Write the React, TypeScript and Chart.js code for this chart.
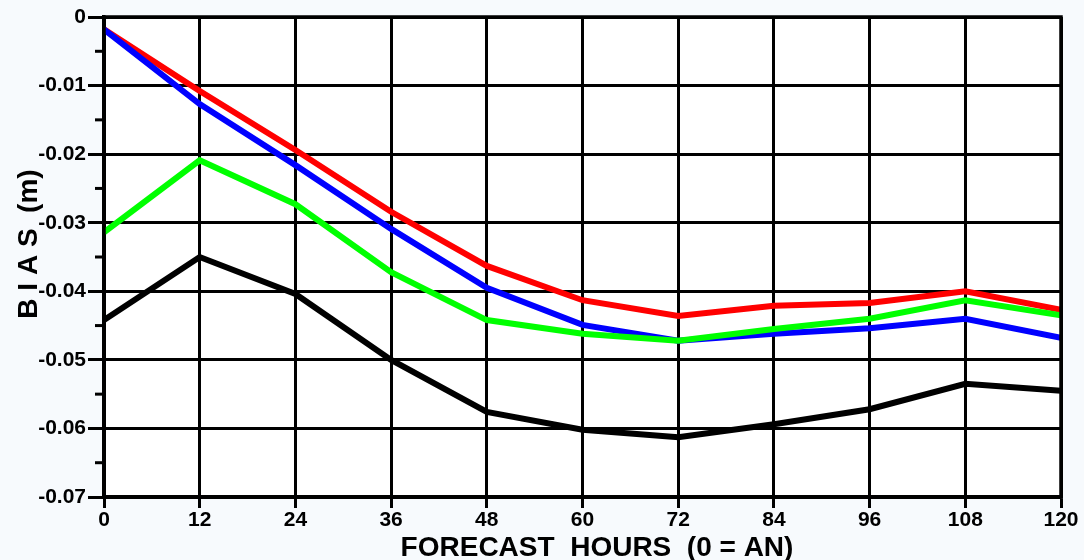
import React, { useEffect, useRef } from "react";
import { Chart, registerables } from "chart.js";

Chart.register(...registerables);

const hours = [0, 12, 24, 36, 48, 60, 72, 84, 96, 108, 120];
const redBias = [-0.0018, -0.0108, -0.0194, -0.0284, -0.0363, -0.0413, -0.0436, -0.0421, -0.0417, -0.04, -0.0427];
const blueBias = [-0.0018, -0.0127, -0.0216, -0.0309, -0.0395, -0.0449, -0.0472, -0.0462, -0.0454, -0.044, -0.0468];
const greenBias = [-0.0314, -0.0209, -0.0273, -0.0372, -0.0442, -0.0462, -0.0472, -0.0455, -0.044, -0.0413, -0.0435];
const blackBias = [-0.0442, -0.035, -0.0404, -0.05, -0.0576, -0.0602, -0.0613, -0.0594, -0.0572, -0.0535, -0.0545];
const minorTicks = [-0.005, -0.015, -0.025, -0.035, -0.045, -0.055, -0.065];
const xTitle = "FORECAST  HOURS  (0 = AN)";
const yTitle = "B I A S  (m)";

const FONT = "'Liberation Sans', Arial, Helvetica, sans-serif";

const toPts = (vals: number[]) => vals.map((v, i) => ({ x: hours[i], y: v }));

const decorPlugin = {
  id: "decor",
  beforeDraw(chart: any) {
    const ctx = chart.ctx;
    ctx.save();
    ctx.fillStyle = "#f7fafd";
    ctx.fillRect(0, 0, chart.width, chart.height);
    const a = chart.chartArea;
    ctx.fillStyle = "#ffffff";
    ctx.fillRect(a.left, a.top, a.right - a.left, a.bottom - a.top);
    ctx.restore();
  },
  afterDraw(chart: any) {
    const ctx = chart.ctx;
    const a = chart.chartArea;
    const ys = chart.scales.y;
    ctx.save();
    ctx.strokeStyle = "#000";
    ctx.lineWidth = 3;
    minorTicks.forEach((v) => {
      const py = ys.getPixelForValue(v);
      ctx.beginPath();
      ctx.moveTo(a.left - 9, py);
      ctx.lineTo(a.left, py);
      ctx.stroke();
    });
    ctx.lineWidth = 3.5;
    ctx.strokeRect(a.left, a.top, a.right - a.left, a.bottom - a.top);
    ctx.fillStyle = "#000";
    ctx.font = `bold 28px ${FONT}`;
    ctx.textAlign = "center";
    ctx.textBaseline = "alphabetic";
    ctx.fillText(xTitle, 597, 556);
    ctx.translate(37, 244);
    ctx.rotate(-Math.PI / 2);
    ctx.fillText(yTitle, 0, 0);
    ctx.restore();
  },
};

export default function App() {
  const ref = useRef<HTMLCanvasElement | null>(null);
  useEffect(() => {
    if (!ref.current) return;
    const ds = (label: string, vals: number[], color: string) => ({
      label,
      data: toPts(vals),
      borderColor: color,
      backgroundColor: color,
      borderWidth: 6,
      pointRadius: 0,
      tension: 0,
      fill: false,
    });
    const chart = new Chart(ref.current, {
      type: "line",
      data: {
        datasets: [
          ds("black", blackBias, "#000000"),
          ds("green", greenBias, "#00ff00"),
          ds("blue", blueBias, "#0000ff"),
          ds("red", redBias, "#ff0000"),
        ],
      },
      options: {
        responsive: false,
        animation: false,
        layout: { padding: { top: 17, right: 23, left: 0, bottom: 0 } },
        plugins: { legend: { display: false }, tooltip: { enabled: false }, title: { display: false } },
        scales: {
          x: {
            type: "linear",
            min: 0,
            max: 120,
            afterFit: (s: any) => {
              s.height = 63;
            },
            ticks: {
              stepSize: 12,
              padding: 0,
              color: "#000",
              font: { family: FONT, size: 21, weight: "bold" },
              maxRotation: 0,
              autoSkip: false,
            },
            grid: { color: "#000", lineWidth: 3, tickLength: 11, tickColor: "#000", tickWidth: 3 },
            border: { color: "#000", width: 3.5 },
          },
          y: {
            type: "linear",
            min: -0.07,
            max: 0,
            afterFit: (s: any) => {
              s.width = 104;
            },
            ticks: {
              stepSize: 0.01,
              padding: 2,
              color: "#000",
              font: { family: FONT, size: 21, weight: "bold" },
              callback: (v: any) => (Math.abs(v) < 1e-9 ? "0" : Number(v).toFixed(2)),
            },
            grid: { color: "#000", lineWidth: 3, tickLength: 16, tickColor: "#000", tickWidth: 3 },
            border: { color: "#000", width: 3.5 },
          },
        },
      },
      plugins: [decorPlugin],
    });
    return () => chart.destroy();
  }, []);
  return (
    <div style={{ position: "fixed", left: 0, top: 0, width: 1084, height: 560 }}>
      <canvas ref={ref} width={1084} height={560} style={{ display: "block" }} />
    </div>
  );
}
